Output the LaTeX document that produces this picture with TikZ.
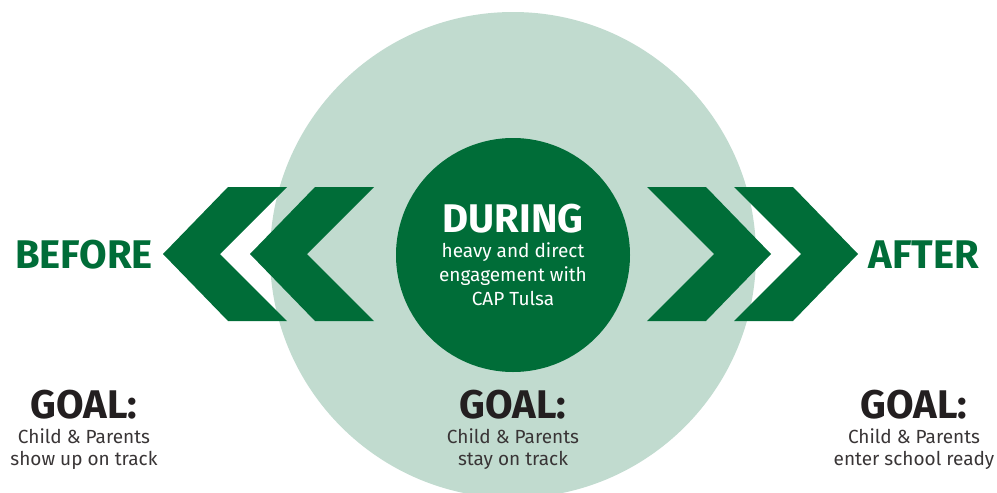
\documentclass[tikz,border=0pt]{standalone}
\usepackage{fontspec}
\setmainfont{Fira Sans}
\definecolor{capgreen}{HTML}{006D38}
\definecolor{capmint}{HTML}{C1DBCF}
\definecolor{capink}{HTML}{231F20}
\tikzset{%
  stage/.style   = {font=\bfseries\fontsize{40}{40}\selectfont,%
                    text=capgreen, inner sep=0pt, anchor=base},%
  goal/.style    = {stage, text=capink},%
  note/.style    = {font=\fontsize{19}{22}\selectfont, text=capink!90,%
                    align=center, inner sep=0pt, anchor=base},%
  chevron/.style = {fill=capgreen}%
}
\begin{document}
\begin{tikzpicture}[x=1pt,y=-1pt]
  \useasboundingbox (0,0) rectangle (997,493);
  % background disc and the inner one
  \fill[capmint] (513,255) circle (243pt);
  \node[circle, fill=capgreen, minimum size=234pt, inner sep=0pt] (core) at (513,255) {};
  % chevrons pointing out of the disc
  \foreach \x in {163,250}
    \fill[chevron] (\x,254) -- (\x+65,187) -- (\x+124,187) -- (\x+57,254)
      -- (\x+124,321) -- (\x+65,321) -- cycle;
  \foreach \x in {771,858}
    \fill[chevron] (\x,254) -- (\x-65,187) -- (\x-124,187) -- (\x-57,254)
      -- (\x-124,321) -- (\x-65,321) -- cycle;
  % stage names
  \node[stage] (before) at (84,268) {BEFORE};
  \node[stage] (after) at (924,268) {AFTER};
  \node[stage, text=white] (during) at (513,232) {DURING};
  % base of a multi-line node sits on its last line
  \node[note, text=white, font=\fontsize{19}{24}\selectfont] (engage) at (513,305)
    {heavy and direct\\engagement with\\CAP Tulsa};
  % goals under each stage
  \node[goal] (goalB) at (84,418) {GOAL:};
  \node[note] (goalBtxt) at (84,465) {Child \& Parents\\show up on track};
  \node[goal] (goalD) at (513,418) {GOAL:};
  \node[note] (goalDtxt) at (513,465) {Child \& Parents\\stay on track};
  \node[goal] (goalA) at (914,418) {GOAL:};
  \node[note] (goalAtxt) at (914,465) {Child \& Parents\\enter school ready};
\end{tikzpicture}
\end{document}
